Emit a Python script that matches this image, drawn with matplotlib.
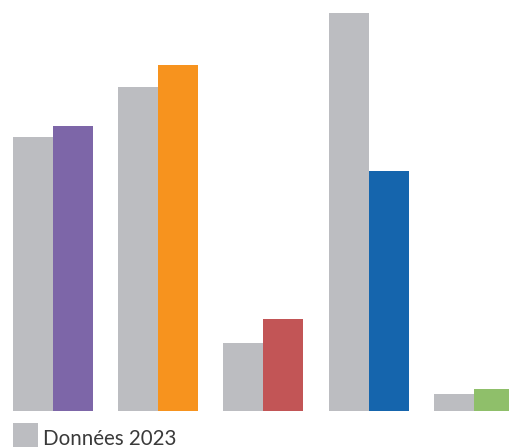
import numpy as np
import matplotlib
matplotlib.use('Agg')
import matplotlib.pyplot as plt
from matplotlib.patches import Rectangle

# values (arbitrary units, pixel heights)
groups = ['A', 'B', 'C', 'D', 'E']
values_2023 = [274, 324, 68, 398, 17]
values_now = [285, 346, 92, 240, 22]
colors_now = ['#7D66A8', '#F7931E', '#C25556', '#1565AD', '#8FBF6A']
gray = '#BCBDC1'
legend_label = 'Données 2023'

plt.rcParams['font.family'] = ['Lato', 'DejaVu Sans']

W, H = 510, 447
fig = plt.figure(figsize=(W / 100, H / 100), dpi=100)
ax = fig.add_axes([0, 36 / H, 1, 411 / H])

x = np.arange(len(groups))
w = 40 / 105.25
ax.bar(x - w, values_2023, width=w, align='edge', color=gray, linewidth=0)
ax.bar(x, values_now, width=w, align='edge', color=colors_now, linewidth=0)

ax.set_xlim(-53 / 105.25, 457 / 105.25)
ax.set_ylim(0, 411)
ax.axis('off')

# legend: gray square + label, bottom left
fig.add_artist(Rectangle((13 / W, 0), 25 / W, 24 / H, transform=fig.transFigure,
                         facecolor=gray, edgecolor='none'))
fig.text(43 / W, 2 / H, legend_label, fontsize=14.8, color='#3a3a3a',
         ha='left', va='baseline')

fig.savefig('out.png', dpi=100)
